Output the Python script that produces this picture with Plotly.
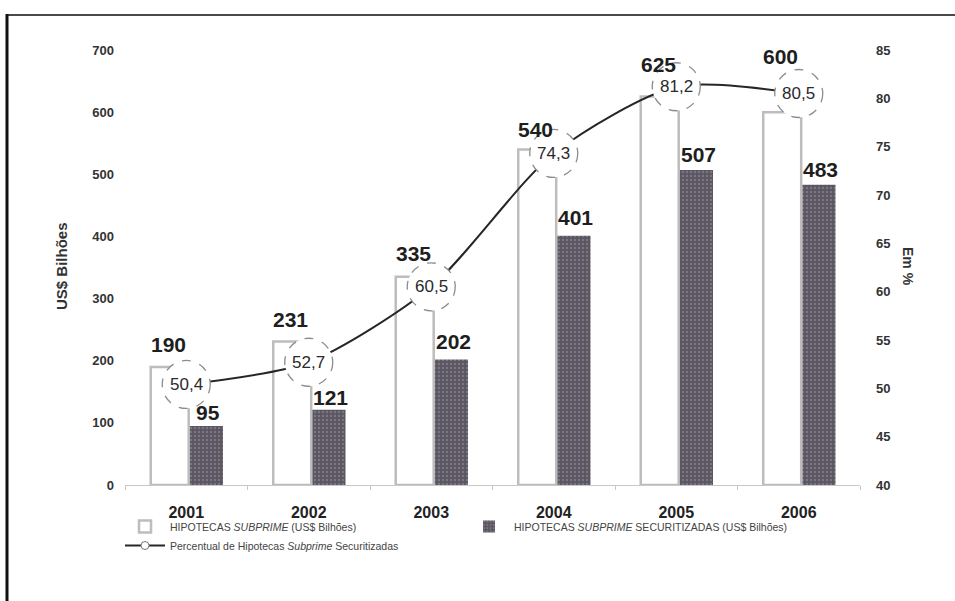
import plotly.graph_objects as go

# ---------------- data ----------------
years = ["2001", "2002", "2003", "2004", "2005", "2006"]
subprime = [190, 231, 335, 540, 625, 600]          # US$ bilhões
securitized = [95, 121, 202, 401, 507, 483]        # US$ bilhões
pct_securitized = [50.4, 52.7, 60.5, 74.3, 81.2, 80.5]  # %
left_ticks = [0, 100, 200, 300, 400, 500, 600, 700]
right_ticks = [40, 45, 50, 55, 60, 65, 70, 75, 80, 85]

name_sub = "HIPOTECAS <i>SUBPRIME</i> (US$ Bilhões)"
name_sec = "HIPOTECAS <i>SUBPRIME</i> SECURITIZADAS (US$ Bilhões)"
name_pct = "Percentual de Hipotecas <i>Subprime</i> Securitizadas"

# ---------------- style ----------------
W, H = 955, 601
ML, MR, MT, MB = 125, 95, 50, 116
PW, PH = W - ML - MR, H - MT - MB


def px_x(x):
    return (x - ML) / PW


def px_y(y):
    return (H - MB - y) / PH


SANS = "Liberation Sans, Arial, sans-serif"

# label offsets (pixels) above bar tops
sub_label_lift = [22, 22, 23, 20, 32, 56]
sec_label_lift = [13, 12, 18, 18, 15, 15]

fig = go.Figure()

fig.add_bar(
    x=years, y=subprime, name=name_sub, yaxis="y",
    offset=-0.29, width=0.31,
    marker=dict(color="white", line=dict(color="#bdbdbd", width=2.5)),
    hoverinfo="x+y",
)
fig.add_bar(
    x=years, y=securitized, name=name_sec, yaxis="y",
    offset=0.03, width=0.27,
    marker=dict(
        color="#5b5661",
        line=dict(width=0),
        pattern=dict(shape=".", bgcolor="#5a5560", fgcolor="#9c96a2", size=4, solidity=0.3),
    ),
    hoverinfo="x+y",
)
fig.add_scatter(
    x=years, y=pct_securitized, name=name_pct, yaxis="y2",
    mode="lines+markers",
    line=dict(color="#262626", width=2, shape="spline", smoothing=0.75),
    marker=dict(size=8, color="white", line=dict(color="#777", width=1)),
)

shapes = []
annotations = []
for i, v in enumerate(pct_securitized):
    shapes.append(dict(
        type="circle", xref="x", yref="y2",
        xsizemode="pixel", ysizemode="pixel",
        xanchor=i, yanchor=v, x0=-24, x1=24, y0=-24, y1=24,
        line=dict(color="#8c8c8c", width=1.3, dash="dash"),
        fillcolor="white", layer="above",
    ))
    annotations.append(dict(
        x=i, y=v, xref="x", yref="y2", text=f"{v:.1f}".replace(".", ","),
        showarrow=False, xanchor="center", yanchor="middle",
        font=dict(family=SANS, size=17, color="#2a2a2a"),
    ))

for i, (v, lift) in enumerate(zip(subprime, sub_label_lift)):
    annotations.append(dict(
        x=i, y=v, xref="x", yref="y", text=str(v), showarrow=False,
        xshift=-18, yshift=lift, xanchor="center", yanchor="middle",
        font=dict(family=SANS, size=21, color="#1e1e1e", weight="bold"),
    ))
for i, (v, lift) in enumerate(zip(securitized, sec_label_lift)):
    annotations.append(dict(
        x=i, y=v, xref="x", yref="y", text=str(v), showarrow=False,
        xshift=22, yshift=lift, xanchor="center", yanchor="middle",
        font=dict(family=SANS, size=21, color="#1e1e1e", weight="bold"),
    ))

# axis titles
annotations.append(dict(
    x=px_x(61), y=px_y(266), xref="paper", yref="paper", text="US$ Bilhões",
    textangle=-90, showarrow=False, xanchor="center", yanchor="middle",
    font=dict(family=SANS, size=15, color="#333", weight="bold"),
))
annotations.append(dict(
    x=px_x(908), y=px_y(267), xref="paper", yref="paper", text="Em %",
    textangle=90, showarrow=False, xanchor="center", yanchor="middle",
    font=dict(family=SANS, size=14, color="#333", weight="bold"),
))

# page frame lines (decoration from the scanned page)
shapes.append(dict(type="line", xref="paper", yref="paper",
                   x0=px_x(7), x1=px_x(955), y0=px_y(15), y1=px_y(15),
                   line=dict(color="#4a4a4a", width=2), layer="above"))
shapes.append(dict(type="line", xref="paper", yref="paper",
                   x0=px_x(7), x1=px_x(7), y0=px_y(14), y1=px_y(601),
                   line=dict(color="#111", width=3), layer="above"))

tickfont = dict(family=SANS, size=13, color="#333", weight="bold")

fig.update_layout(
    width=W, height=H,
    margin=dict(l=ML, r=MR, t=MT, b=MB, pad=0),
    paper_bgcolor="white", plot_bgcolor="white",
    barmode="overlay",
    showlegend=True,
    legend=dict(
        orientation="h", x=px_x(120), y=px_y(512), xanchor="left", yanchor="top",
        font=dict(family=SANS, size=10.5, color="#444"),
        entrywidth=289, entrywidthmode="pixels",
        bgcolor="rgba(0,0,0,0)", tracegroupgap=0, itemwidth=40,
    ),
    xaxis=dict(
        type="category", categoryorder="array", categoryarray=years,
        range=[-0.5, 5.5],
        showline=True, linecolor="#c8c8c8", linewidth=1,
        ticks="outside", tickson="boundaries", ticklen=4, tickcolor="#c8c8c8",
        showgrid=False, zeroline=False,
        tickfont=dict(family=SANS, size=16, color="#222", weight="bold"),
        ticklabelstandoff=13,
    ),
    yaxis=dict(
        range=[0, 700], tickmode="array", tickvals=left_ticks,
        showgrid=False, zeroline=False, showline=False, ticks="",
        tickfont=tickfont, ticklabelstandoff=10,
    ),
    yaxis2=dict(
        range=[40, 85], tickmode="array", tickvals=right_ticks,
        overlaying="y", side="right",
        showgrid=False, zeroline=False, showline=False, ticks="",
        tickfont=tickfont, ticklabelstandoff=15,
    ),
    shapes=shapes,
    annotations=annotations,
)

fig.write_html("out.html")
